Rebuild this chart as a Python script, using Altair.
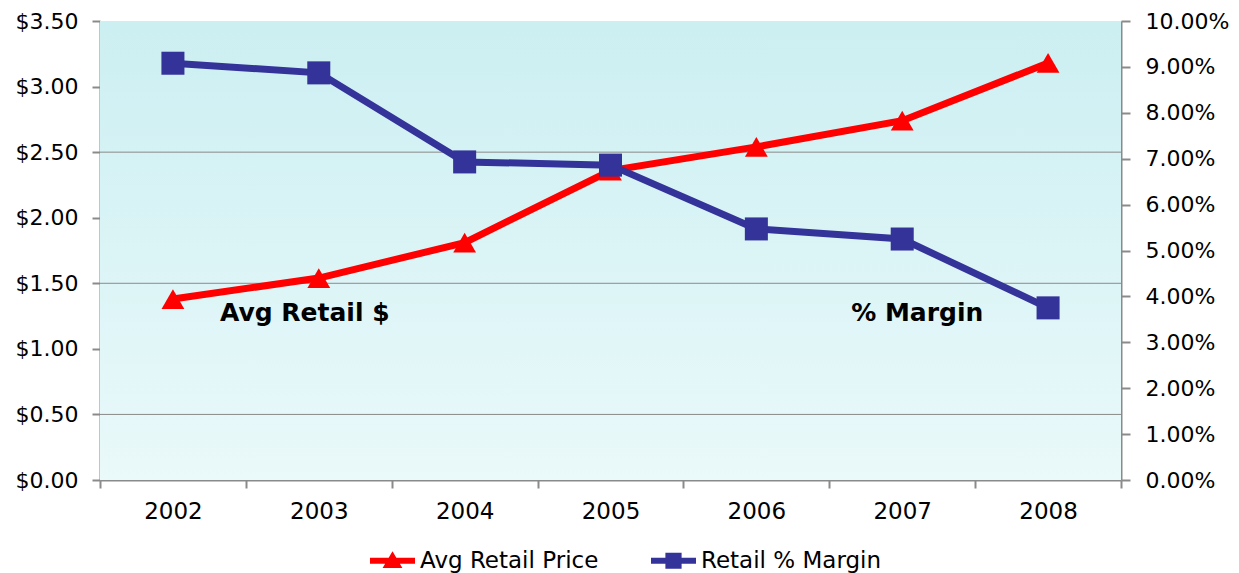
import altair as alt
import pandas as pd

years = ["2002", "2003", "2004", "2005", "2006", "2007", "2008"]
avg_retail_price = [1.38, 1.54, 1.81, 2.36, 2.54, 2.74, 3.18]
retail_margin = [0.0908, 0.0887, 0.0693, 0.0686, 0.0547, 0.0525, 0.0375]
series_names = ["Avg Retail Price", "Retail % Margin"]
series_colors = ["#FF0000", "#333399"]
price_ticks = [0.0, 0.5, 1.0, 1.5, 2.0, 2.5, 3.0, 3.5]
margin_ticks = [0.0, 0.01, 0.02, 0.03, 0.04, 0.05, 0.06, 0.07, 0.08, 0.09, 0.10]
grid_values = [0.5, 1.5, 2.5]
annotation_texts = ["Avg Retail $", "% Margin"]
annotation_years = ["2003", "2007"]
annotation_levels = [1.27, 1.27]

W, H = 1021, 459
FONT = "DejaVu Sans"
GRAY = "#8a8a8a"

price_df = pd.DataFrame({"year": years, "price": avg_retail_price})
margin_df = pd.DataFrame({"year": years, "margin": retail_margin})
grid_df = pd.DataFrame({"price": grid_values})
ann_df = pd.DataFrame({"year": annotation_years, "price": annotation_levels, "text": annotation_texts})
legend_df = pd.DataFrame({"series": series_names})

x_enc = alt.X(
    "year:N",
    title=None,
    scale=alt.Scale(type="band", paddingInner=0, paddingOuter=0, domain=years),
    axis=alt.Axis(
        labelAngle=0, tickBand="extent", tickSize=8, tickColor=GRAY, domainColor=GRAY,
        domainWidth=2, tickWidth=2, labelFont=FONT, labelFontSize=23, labelColor="black",
        labelPadding=12, grid=False,
    ),
)
y_price = alt.Y(
    "price:Q",
    title=None,
    scale=alt.Scale(domain=[0, 3.5], nice=False, zero=True),
    axis=alt.Axis(
        orient="left", values=price_ticks, format="$.2f", grid=False, tickSize=8,
        tickColor=GRAY, domainColor=GRAY, domainWidth=2, tickWidth=2, labelFont=FONT,
        labelFontSize=22, labelColor="black", labelPadding=14,
    ),
)
y_margin = alt.Y(
    "margin:Q",
    title=None,
    scale=alt.Scale(domain=[0, 0.10], nice=False, zero=True),
    axis=alt.Axis(
        orient="right", values=margin_ticks, format=".2%", grid=False, tickSize=9,
        tickColor=GRAY, domainColor=GRAY, domainWidth=2, tickWidth=2, labelFont=FONT,
        labelFontSize=22, labelColor="black", labelPadding=15,
    ),
)

tri_path = "M-1,-0.13H1V0.13H-1Z M0,-0.42L0.44,0.32L-0.44,0.32Z"
sq_path = "M-1,-0.13H1V0.13H-1Z M-0.36,-0.36H0.36V0.36H-0.36Z"

legend = alt.Legend(
    title=None, orient="none", legendX=270, legendY=517, direction="horizontal",
    symbolSize=2025, labelFont=FONT, labelFontSize=23, labelColor="black",
    labelOffset=5, columnPadding=52, symbolStrokeWidth=0, padding=0, symbolOpacity=1,
    labelLimit=400,
)

bg = alt.Chart(pd.DataFrame({"a": [0]})).mark_rect(
    color=alt.Gradient(
        gradient="linear",
        stops=[alt.GradientStop(color="#CCEFF2", offset=0), alt.GradientStop(color="#EAF9FA", offset=1)],
        x1=0, x2=0, y1=0, y2=1,
    )
).encode(x=alt.value(0), x2=alt.value(W), y=alt.value(0), y2=alt.value(H))

legend_layer = alt.Chart(legend_df).mark_point(filled=True, opacity=0).encode(
    x=alt.value(0), y=alt.value(0),
    color=alt.Color("series:N", scale=alt.Scale(domain=series_names, range=series_colors), legend=legend),
    shape=alt.Shape("series:N", scale=alt.Scale(domain=series_names, range=[tri_path, sq_path]), legend=legend),
)

grid = alt.Chart(grid_df).mark_rule(color=GRAY, strokeWidth=1).encode(y=y_price)

price_line = alt.Chart(price_df).mark_line(color=series_colors[0], strokeWidth=7).encode(x=x_enc, y=y_price)
price_pts = alt.Chart(price_df).mark_point(
    shape="triangle-up", size=520, filled=True, opacity=1, color=series_colors[0]
).encode(x=x_enc, y=y_price)
ann1 = alt.Chart(ann_df[ann_df.year == annotation_years[0]]).mark_text(
    font=FONT, fontSize=25, fontWeight="bold", color="black", dx=-14, baseline="middle"
).encode(x=x_enc, y=y_price, text="text:N")
ann2 = alt.Chart(ann_df[ann_df.year == annotation_years[1]]).mark_text(
    font=FONT, fontSize=25, fontWeight="bold", color="black", dx=15, baseline="middle"
).encode(x=x_enc, y=y_price, text="text:N")

price_layer = alt.layer(grid, price_line, price_pts, ann1, ann2)

margin_line = alt.Chart(margin_df).mark_line(color=series_colors[1], strokeWidth=7).encode(x=x_enc, y=y_margin)
margin_pts = alt.Chart(margin_df).mark_square(
    size=530, filled=True, opacity=1, color=series_colors[1]
).encode(x=x_enc, y=y_margin)
margin_layer = alt.layer(margin_line, margin_pts)

chart = (
    alt.layer(bg, price_layer, margin_layer, legend_layer)
    .resolve_scale(y="independent")
    .properties(
        width=W, height=H,
        padding={"left": 100, "top": 21, "right": 118, "bottom": 93},
        autosize=alt.AutoSizeParams(type="none"),
        background="white",
    )
    .configure_view(strokeWidth=0)
)

chart.save("out.html", embed_options={"renderer": "svg", "actions": False})
